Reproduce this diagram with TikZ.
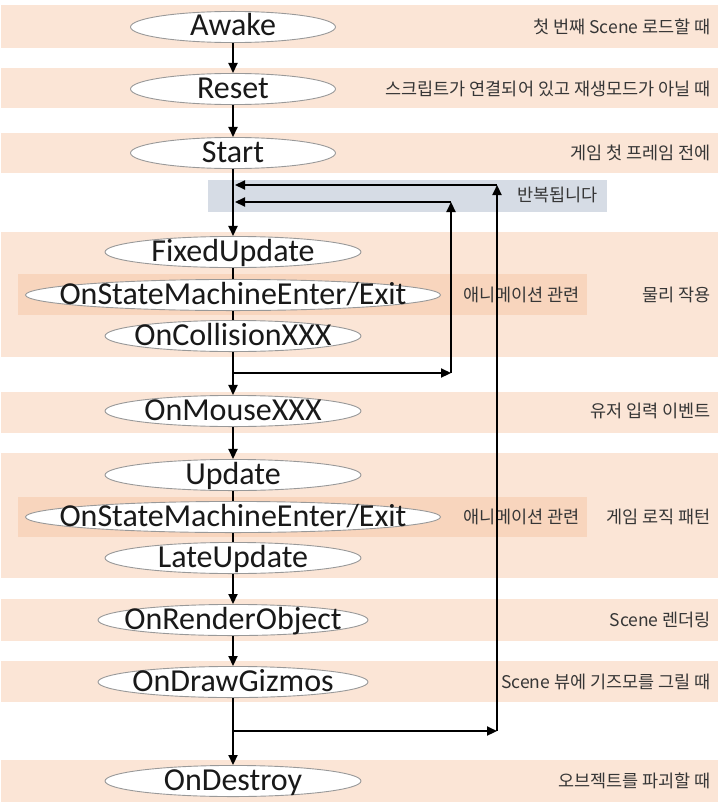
\documentclass[tikz,border=0pt]{standalone}
\usepackage{fontspec}
\setmainfont{Carlito}
\newfontfamily\kofont{Noto Sans CJK KR}
\usetikzlibrary{shapes.geometric, arrows.meta}
\definecolor{bandpeach}{HTML}{FBE5D6}
\definecolor{bandanim}{HTML}{F8D5BD}
\definecolor{bandgray}{HTML}{D6DCE5}
\definecolor{notegray}{HTML}{363636}
\tikzstyle{oval}  = [ellipse, draw=gray!80, fill=white, line width=0.9pt, minimum width=256pt,
                     minimum height=30pt, inner sep=0pt, text height=20pt, text depth=2pt,
                     font=\fontsize{32}{32}\selectfont, text=black!90,
                     execute at begin node={\hbox to 0pt\bgroup\hss}, execute at end node={\hss\egroup}]
\tikzstyle{band}  = [fill=bandpeach]
\tikzstyle{anim}  = [fill=bandanim]
\tikzstyle{note}  = [anchor=east, inner sep=0pt, text=notegray, font=\kofont\fontsize{17.5}{18}\selectfont]
\tikzstyle{arrow} = [-{Triangle[length=10pt, width=9pt]}, line width=2.2pt]
\tikzstyle{link}  = [line width=1.3pt]

\begin{document}
\begin{tikzpicture}[x=1pt, y=-1pt]
    \useasboundingbox (0,0) rectangle (720,808);
    \fill[band] (1,5) rectangle (718,48);
    \fill[band] (1,68) rectangle (718,108);
    \fill[band] (1,133) rectangle (718,173);
    \fill[bandgray] (208,180) rectangle (607,212);
    \fill[band] (1,232) rectangle (718,357);
    \fill[anim] (18,274) rectangle (587,315);
    \fill[band] (1,392) rectangle (718,433);
    \fill[band] (1,453) rectangle (718,578);
    \fill[anim] (18,497) rectangle (587,537);
    \fill[band] (1,599) rectangle (718,641);
    \fill[band] (1,661) rectangle (718,702);
    \fill[band] (1,760) rectangle (718,802);

    \node (awake) [oval, minimum width=205pt] at (233,27) {Awake};
    \node (reset) [oval, minimum width=205pt] at (233,89) {Reset};
    \node (start) [oval, minimum width=205pt] at (233,153) {Start};
    \node (fixed) [oval] at (233,252) {FixedUpdate};
    \node (smphys) [oval, minimum width=415pt] at (233,295) {OnStateMachineEnter/Exit};
    \node (collide) [oval] at (233,336) {OnCollisionXXX};
    \node (mouse) [oval] at (233,411) {OnMouseXXX};
    \node (update) [oval] at (233,475) {Update};
    \node (smlogic) [oval, minimum width=415pt] at (233,517) {OnStateMachineEnter/Exit};
    \node (late) [oval] at (233,558) {LateUpdate};
    \node (render) [oval, minimum width=270pt] at (233,620) {OnRenderObject};
    \node (gizmos) [oval, minimum width=270pt] at (233,682) {OnDrawGizmos};
    \node (destroy) [oval] at (233,781) {OnDestroy};

    \node (noteawake) [note] at (711,27) {첫 번째 Scene 로드할 때};
    \node (notereset) [note] at (711,89) {스크립트가 연결되어 있고 재생모드가 아닐 때};
    \node (notestart) [note] at (711,153) {게임 첫 프레임 전에};
    \node (noteloop) [note, anchor=west] at (517,195) {반복됩니다};
    \node (noteanim1) [note, anchor=west] at (463,295) {애니메이션 관련};
    \node (notephys) [note] at (711,295) {물리 작용};
    \node (notemouse) [note] at (711,411) {유저 입력 이벤트};
    \node (noteanim2) [note, anchor=west] at (463,517) {애니메이션 관련};
    \node (notelogic) [note] at (711,517) {게임 로직 패턴};
    \node (noterender) [note] at (711,620) {Scene 렌더링};
    \node (notegizmos) [note] at (711,682) {Scene 뷰에 기즈모를 그릴 때};
    \node (notedestroy) [note] at (711,781) {오브젝트를 파괴할 때};

    \coordinate (physout) at (233,373);
    \coordinate (physturn) at (451,373);
    \coordinate (phystop) at (451,202);
    \coordinate (physin) at (235,202);
    \coordinate (frameout) at (233,731);
    \coordinate (frameturn) at (497,731);
    \coordinate (frametop) at (497,185);
    \coordinate (framein) at (235,185);

    \draw[arrow] (awake) -- (reset);
    \draw[arrow] (reset) -- (start);
    \draw[arrow] (start) -- (fixed);
    \draw[link] (fixed) -- (smphys);
    \draw[link] (smphys) -- (collide);
    \draw[arrow] (collide) -- (mouse);
    \draw[arrow] (mouse) -- (update);
    \draw[link] (update) -- (smlogic);
    \draw[link] (smlogic) -- (late);
    \draw[arrow] (late) -- (render);
    \draw[arrow] (render) -- (gizmos);
    \draw[arrow] (gizmos) -- (destroy);

    \draw[arrow] (physout) -- (physturn);
    \draw[arrow] (physturn) -- (phystop);
    \draw[arrow] (phystop) -- (physin);
    \draw[arrow] (frameout) -- (frameturn);
    \draw[arrow] (frameturn) -- (frametop);
    \draw[arrow] (frametop) -- (framein);
\end{tikzpicture}
\end{document}
